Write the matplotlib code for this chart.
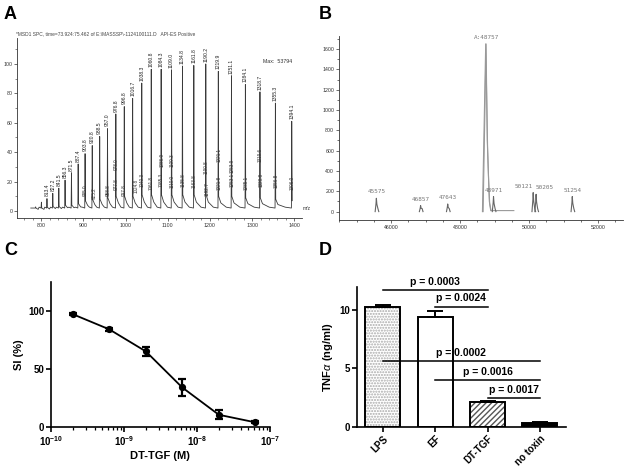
import matplotlib
matplotlib.use("Agg")
import matplotlib.pyplot as plt
from matplotlib.ticker import MultipleLocator, FixedLocator, FixedFormatter, LogLocator, NullFormatter

plt.rcParams["font.family"] = ["Liberation Sans", "DejaVu Sans"]
plt.rcParams["mathtext.fontset"] = "custom"
plt.rcParams["mathtext.rm"] = "Liberation Sans"
plt.rcParams["mathtext.bf"] = "Liberation Sans:bold"
plt.rcParams["mathtext.it"] = "Liberation Sans:italic"

# ---- panel A: ESI spectrum (m/z, relative intensity)
main_mz = [813.4, 827.2, 841.5, 856.3, 871.5, 887.4, 903.8, 920.8, 938.5, 957.0,
           976.8, 996.8, 1016.7, 1038.3, 1060.8, 1084.3, 1109.0, 1134.8, 1161.8,
           1190.2, 1219.9, 1251.1, 1284.1, 1318.7, 1355.3, 1394.1]
main_int = [8.4, 12, 15.5, 21, 26, 32, 39, 44.5, 50.7, 56, 66, 71, 76.6, 87,
            96.4, 96.4, 96, 98.6, 99, 100, 95, 92, 86, 81, 73.4, 61]
tail_int = [2.5, 3, 3, 4, 4, 5, 7, 8, 8, 9, 10, 10, 10, 11, 11, 11, 11, 11, 11,
            11, 10, 10, 9, 9, 8, 8]
small_mz = [786.5, 800.2]
small_int = [2.8, 6]
sec_mz = [905.0, 925.2, 958.8, 977.8, 997.8, 1024.8, 1040.3, 1061.8, 1085.3,
          1110.0, 1135.8, 1163.8, 1192.7, 1221.8, 1253.1, 1285.1, 1320.8,
          1356.8, 1396.0]
sec_y = [10, 8, 10, 14, 10, 12, 16.5, 14, 16.5, 15.5, 16.5, 15.5, 10, 14,
         16.5, 14, 16.5, 15.5, 14]
sec2_mz = [978.0, 1086.9, 1109.3, 1190.8, 1221.1, 1253.9, 1319.6]
sec2_y = [28, 30, 30, 25, 33, 26, 33]

# ---- panel B: deconvoluted mass spectrum
b_mass = [45575, 46857, 47643, 48971, 50121, 50205, 51254]
b_int = [131, 59, 75, 148, 187, 170, 148]
b_label_ha = ["center", "center", "center", "center", "right", "left", "center"]
b_main_mass = 48757
b_main_int = 1650

# ---- panel C: dose response
conc = [2e-10, 6.3e-10, 2e-9, 6.3e-9, 2e-8, 6.3e-8]
si = [97, 84, 65, 34, 10.5, 4]
si_err = [1, 1, 4, 7, 4, 1]

# ---- panel D: TNF-alpha
groups = ["LPS", "EF", "DT-TGF", "no toxin"]
tnf = [10.3, 9.4, 2.1, 0.35]
tnf_err = [0.15, 0.5, 0.1, 0.05]
sig_x1 = [0, 1, 0, 1, 2]
sig_x2 = [2, 2, 3, 3, 3]
sig_y = [11.7, 10.3, 5.6, 4.0, 2.45]
sig_text = ["p = 0.0003", "p = 0.0024", "p = 0.0002", "p = 0.0016", "p = 0.0017"]

fig = plt.figure(figsize=(6.29, 4.74), dpi=100)

# ================= A
axA = fig.add_axes([0.0275, 0.540, 0.453, 0.380])
base = 2.0
peaks = sorted([(m, h, 2.0) for m, h in zip(small_mz, small_int)] +
               [(m, h, t) for m, h, t in zip(main_mz, main_int, tail_int)])
xs, ys = [775], [base]
for i, (c, h, t) in enumerate(peaks):
    xs += [c - 0.8, c]
    ys += [base, h]
    if i == len(peaks) - 1:
        xs += [c + 1.2]
        ys += [7]
        break
    gap = peaks[i + 1][0] - c
    xs += [c + 0.8, c + 3, c + 6, c + 0.6 * gap]
    ys += [t, t * 0.8, t * 0.55, base + 0.6]
axA.plot(xs, ys, color="#3a3a3a", lw=0.6)
for c, h in zip(main_mz, main_int):
    axA.text(c, h + 1.5, f"{c:.1f}", rotation=90, ha="center", va="bottom",
             fontsize=3.6, color="#222")
for c, y in zip(sec_mz, sec_y):
    axA.text(c, y, f"{c:.1f}", rotation=90, ha="center", va="bottom",
             fontsize=3.3, color="#333")
for c, y in zip(sec2_mz, sec2_y):
    axA.text(c, y, f"{c:.1f}", rotation=90, ha="center", va="bottom",
             fontsize=3.3, color="#333")
axA.set_xlim(743, 1419)
axA.set_ylim(-4.8, 117.7)
axA.xaxis.set_major_locator(MultipleLocator(100))
axA.xaxis.set_minor_locator(MultipleLocator(20))
axA.yaxis.set_major_locator(FixedLocator([0, 20, 40, 60, 80, 100]))
axA.yaxis.set_minor_locator(MultipleLocator(10))
axA.tick_params(labelsize=3.8, length=2, width=0.5, colors="#333", pad=1.5)
axA.tick_params(which="minor", length=1.2, width=0.4, colors="#333")
for s in ["top", "right"]:
    axA.spines[s].set_visible(False)
for s in ["left", "bottom"]:
    axA.spines[s].set_linewidth(0.6)
    axA.spines[s].set_color("#333")
axA.text(1.0, 0.055, "m/z", transform=axA.transAxes, ha="left", va="center",
         fontsize=3.6, color="#333")
axA.text(1326, 101.4, "Max:  53794", fontsize=3.8, va="center", color="#333")
fig.text(0.0254, 0.928, "*MSD1 SPC, time=73.924:75.462 of E:\\MASSSP\\-1124100111.D   API-ES Positive",
         fontsize=3.5, color="#444", va="center")

# ================= B
axB = fig.add_axes([0.539, 0.536, 0.451, 0.388])
gray = "#999999"
axB.plot([48650, 48745, 48800, 48830, 48860, 48900, 49560],
         [0, b_main_int, 620, 300, 80, 10, 10], color=gray, lw=0.8)
axB.plot([48670, 48755, 48790, 48850, 48890],
         [0, b_main_int, 700, 100, 10], color=gray, lw=0.8)
axB.text(b_main_mass, b_main_int + 35, f"A:{b_main_mass}", ha="center", va="bottom",
         fontsize=4.3, family="DejaVu Sans Mono", color="#777")
for m, h, ha in zip(b_mass, b_int, b_label_ha):
    axB.plot([m - 35, m - 10, m, m + 15, m + 45, m + 70],
             [0, h * 0.6, h, h * 0.55, 30, 0], color="#666", lw=0.8)
    axB.text(m, h + 40, str(m), ha=ha, va="bottom", fontsize=4.3,
             family="DejaVu Sans Mono", color="#777")
axB.set_xlim(44493, 52716)
axB.set_ylim(-82, 1728)
axB.xaxis.set_major_locator(MultipleLocator(2000))
axB.xaxis.set_minor_locator(MultipleLocator(500))
axB.yaxis.set_major_locator(MultipleLocator(200))
axB.yaxis.set_minor_locator(MultipleLocator(100))
axB.tick_params(labelsize=3.8, length=2, width=0.5, colors="#333", pad=1.5)
axB.tick_params(which="minor", length=1.2, width=0.4)
for s in ["top", "right"]:
    axB.spines[s].set_visible(False)
for s in ["left", "bottom"]:
    axB.spines[s].set_linewidth(0.6)
    axB.spines[s].set_color("#333")

# ================= C
axC = fig.add_axes([0.081, 0.0992, 0.348, 0.3065])
axC.errorbar(conc, si, yerr=si_err, fmt="o-", color="black", ms=4.2, lw=1.3,
             elinewidth=1.6, capsize=3, capthick=1.6)
axC.set_xscale("log")
axC.set_xlim(1e-10, 1e-7)
axC.set_ylim(0, 125)
axC.xaxis.set_major_locator(FixedLocator([1e-10, 1e-9, 1e-8, 1e-7]))
axC.xaxis.set_major_formatter(FixedFormatter([r"$\mathbf{10^{-10}}$", r"$\mathbf{10^{-9}}$",
                                              r"$\mathbf{10^{-8}}$", r"$\mathbf{10^{-7}}$"]))
axC.xaxis.set_minor_locator(LogLocator(base=10, subs=range(2, 10), numticks=20))
axC.xaxis.set_minor_formatter(NullFormatter())
axC.set_yticks([0, 50, 100])
axC.tick_params(labelsize=7, length=3.5, width=1.2, pad=1.5)
axC.tick_params(which="minor", length=2, width=0.9)
for lab in axC.get_yticklabels():
    lab.set_fontweight("bold")
for s in ["top", "right"]:
    axC.spines[s].set_visible(False)
for s in ["left", "bottom"]:
    axC.spines[s].set_linewidth(1.2)
axC.set_xlabel("DT-TGF (M)", fontsize=8, fontweight="bold", labelpad=2)
axC.set_ylabel("SI (%)", fontsize=8, fontweight="bold", labelpad=3)

# ================= D
axD = fig.add_axes([0.567, 0.0998, 0.333, 0.2952])
xpos = range(len(groups))
w = 0.67
axD.bar(0, tnf[0], w, color="white", edgecolor="#aaaaaa", hatch="......", lw=0)
axD.bar(2, tnf[2], w, color="white", edgecolor="#555555", hatch="//////", lw=0)
face = ["none", "white", "none", "black"]
axD.bar(xpos, tnf, w, color=face, edgecolor="black", lw=1.4)
axD.errorbar(xpos, tnf, yerr=[[0] * 4, tnf_err], fmt="none", ecolor="black",
             elinewidth=1.4, capsize=6, capthick=1.4)
for x1, x2, y, t in zip(sig_x1, sig_x2, sig_y, sig_text):
    axD.plot([x1, x2], [y, y], color="black", lw=1.1)
    axD.text((x1 + x2) / 2, y + 0.3, t, ha="center", va="bottom", fontsize=7.5,
             fontweight="bold")
axD.set_xlim(-0.5, 3.5)
axD.set_ylim(0, 12)
axD.set_xticks(list(xpos))
axD.set_xticklabels(groups, rotation=45, ha="right", rotation_mode="anchor",
                    fontweight="bold")
axD.set_yticks([0, 5, 10])
axD.tick_params(labelsize=7, length=3.5, width=1.2, pad=1.5)
for lab in axD.get_yticklabels():
    lab.set_fontweight("bold")
for s in ["top", "right"]:
    axD.spines[s].set_visible(False)
for s in ["left", "bottom"]:
    axD.spines[s].set_linewidth(1.2)
axD.set_ylabel(r"TNF$\alpha$ (ng/ml)", fontsize=8, fontweight="bold", labelpad=3)

# panel letters
for x, y, t in [(0.006, 0.987, "A"), (0.507, 0.987, "B"), (0.006, 0.49, "C"), (0.507, 0.49, "D")]:
    fig.text(x, y, t, fontsize=13, fontweight="bold", va="top", ha="left")

fig.savefig("out.png", dpi=100)
